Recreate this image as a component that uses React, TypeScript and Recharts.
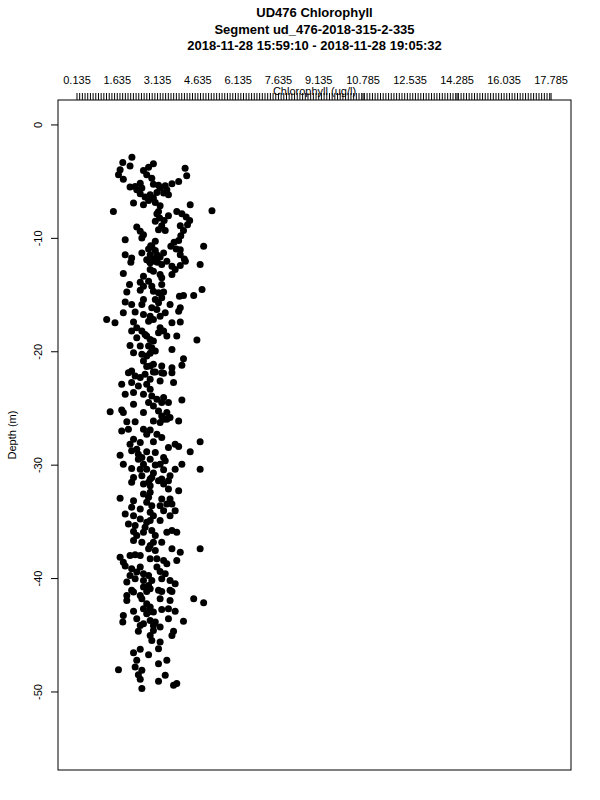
import React from 'react';
import { ScatterChart, Scatter, XAxis, YAxis } from 'recharts';

// Chart text
const titleLines = [
  'UD476 Chlorophyll',
  'Segment ud_476-2018-315-2-335',
  '2018-11-28 15:59:10 - 2018-11-28 19:05:32',
];
const xLabel = 'Chlorophyll (ug/l)';
const yLabel = 'Depth (m)';

// Labelled ticks on the top axis
const xTickLabels = [0.135, 1.635, 3.135, 4.635, 6.135, 7.635, 9.135, 10.785, 12.535, 14.285, 16.035, 17.785];
const xMinorStep = 0.1;
const yTicks = [0, -10, -20, -30, -40, -50];

// Samples (chlorophyll ug/l, depth m)
const chlorophyll = [
  2.18, 1.84, 2.11, 1.74, 1.68, 1.86, 2.98, 2.80, 2.61, 2.73, 2.92, 4.16, 4.22, 3.92, 3.67, 3.42, 3.17, 2.98,
  2.11, 2.36, 2.55, 2.49, 2.67, 2.86, 3.11, 3.36, 3.54, 2.80, 3.05, 2.24, 2.61, 3.23, 1.49, 4.35, 5.16, 3.85,
  4.04, 4.20, 4.33, 3.11, 3.21, 3.05, 3.38, 3.54, 3.29, 3.17, 3.42, 3.98, 4.10, 4.25, 2.36, 2.49, 2.61, 2.55,
  4.00, 3.92, 3.75, 1.93, 4.85, 3.05, 2.88, 2.80, 3.05, 2.86, 2.98, 3.23, 3.36, 3.13, 2.83, 1.93, 2.17, 2.55,
  3.83, 3.98, 4.13, 3.63,
  2.92, 3.11, 2.73, 2.98, 3.17, 2.49, 2.30, 3.48, 3.23, 3.98,
  2.14, 2.86, 3.04, 3.29, 3.48, 3.67, 3.98, 4.17, 4.72, 1.86, 2.98, 3.23, 3.67, 3.79, 2.61, 2.80, 2.49, 3.29,
  2.09, 2.61, 2.92, 3.29, 2.98, 1.99, 2.49, 3.36, 4.10, 3.95, 4.48, 4.79, 1.93, 2.17, 2.55, 3.05, 3.17, 3.29,
  3.60, 3.98, 3.92, 2.92, 3.11, 1.86, 2.30, 2.61, 2.86, 3.42, 3.67, 3.98, 1.24, 1.55, 2.24, 2.80, 2.98, 2.17,
  2.55, 3.23, 3.36, 3.17, 3.85, 2.36, 2.67, 2.86, 2.98, 4.60, 2.11, 2.49, 2.80, 3.67, 2.24, 2.55, 2.86, 3.05,
  4.10, 4.04, 3.67, 3.29, 2.98, 2.73, 2.61, 2.17, 3.05, 3.29,
  2.86, 2.73, 2.92, 2.73, 2.86, 3.17, 2.61, 3.23, 2.36, 3.48,
  2.05, 2.30, 2.67, 2.98, 3.36, 3.67, 3.23, 3.73, 1.80, 2.17, 2.42, 2.73, 2.86, 1.93, 2.24, 2.61, 2.92, 3.36,
  3.54, 3.29, 4.04, 2.24, 2.80, 2.98, 1.37, 1.80, 1.86, 2.61, 3.17, 3.48, 3.60, 3.36, 2.98, 3.23, 3.92, 1.99,
  2.30, 1.80, 2.05, 2.61, 2.86, 2.73, 3.11, 3.29, 2.24, 2.11, 2.49, 2.98, 4.72, 3.79, 3.54, 3.92, 2.17, 2.42,
  2.73, 3.05, 4.35, 1.74, 2.42, 2.86, 3.36, 3.42, 2.61, 3.05, 1.86, 2.17, 2.49, 3.79, 3.36, 4.04, 4.72, 2.24,
  2.55, 2.92, 2.98, 3.29, 3.60, 3.54,
  2.49, 2.86, 3.11, 3.29, 3.48, 2.36, 2.55, 3.23, 2.73, 2.86,
  2.17, 2.61, 2.86, 3.17, 3.36, 3.54, 3.92, 1.74, 2.24, 2.61, 2.80, 2.86, 3.29, 3.60, 3.67, 3.23, 2.92, 2.17,
  2.49, 1.93, 2.24, 2.86, 3.36, 3.60, 3.79, 2.49, 2.86, 3.23, 2.05, 2.30, 2.67, 2.24, 2.61, 2.92, 3.05, 3.48,
  3.67, 3.85, 2.24, 2.55, 2.98, 3.29, 2.80, 3.05, 3.67, 3.98, 4.72, 2.11, 2.30, 2.49, 1.74, 1.86, 1.93, 2.86,
  3.36, 3.48, 3.85, 2.17, 2.49, 3.11, 3.23, 2.11, 2.61, 2.80, 3.42, 1.99, 2.30, 2.61, 2.92, 3.29, 3.60, 3.79,
  2.17, 2.61, 2.86, 3.17, 3.60,
  2.80, 2.73, 3.48, 2.98, 2.73, 2.36, 2.86, 3.11, 2.36, 2.80,
  1.99, 2.24, 2.49, 2.73, 3.29, 3.67, 1.99, 2.55, 2.73, 3.23, 3.60, 4.48, 4.85, 2.24, 2.61, 2.80, 2.98, 3.29,
  3.54, 3.79, 1.86, 1.84, 2.36, 2.86, 3.05, 3.54, 4.10, 2.61, 2.98, 3.23, 2.42, 2.86, 3.67, 3.73, 2.92, 3.23,
  3.17, 2.24, 2.49, 2.80, 2.36, 3.48, 3.17, 2.30, 2.55, 1.68, 2.42, 3.42, 2.49, 3.17, 3.73, 3.85, 2.55,
  2.86, 2.73, 2.49, 2.98,
];
const depth = [
  -2.85, -3.31, -3.61, -3.96, -4.40, -4.78, -3.43, -3.72, -4.02, -4.40, -4.69, -3.81, -4.49, -4.99, -5.19, -5.37, -5.31, -5.22,
  -5.48, -5.72, -5.57, -6.07, -6.36, -6.16, -5.95, -6.01, -6.16, -6.66, -6.83, -6.89, -7.04, -7.13, -7.63, -7.04, -7.57, -7.63,
  -7.83, -8.12, -8.42, -7.83, -8.21, -8.50, -8.42, -8.01, -8.89, -9.24, -9.30, -8.89, -9.30, -8.80, -9.00, -9.38, -9.68, -9.97,
  -9.77, -10.18, -10.35, -10.12, -10.70, -10.26, -10.65, -10.94, -11.06, -11.44, -11.82, -11.64, -11.29, -12.11, -12.02, -11.44, -11.73, -11.29,
  -10.94, -11.44, -11.82, -10.70,
  -10.70, -11.44, -11.88, -6.45, -7.63, -5.13, -5.43, -5.72, -5.57, -11.00,
  -12.10, -12.16, -12.02, -12.31, -12.02, -12.46, -12.40, -12.02, -12.31, -13.10, -12.90, -13.19, -13.19, -12.75, -13.34, -13.78, -13.86, -13.48,
  -14.07, -14.22, -14.22, -14.07, -14.66, -14.74, -14.57, -14.74, -15.04, -15.10, -15.04, -14.51, -15.62, -15.83, -15.83, -15.39, -15.68, -15.24,
  -15.83, -16.12, -16.42, -16.12, -16.27, -16.56, -16.50, -16.71, -16.86, -16.56, -17.44, -17.38, -17.15, -17.44, -17.38, -17.30, -17.15, -18.17,
  -18.17, -17.88, -18.17, -18.32, -18.61, -18.76, -18.47, -18.91, -19.05, -18.97, -19.44, -19.49, -19.49, -19.79, -20.08, -20.23, -20.14, -19.93,
  -20.61, -21.20, -21.40, -21.25, -21.11, -21.31, -20.81, -21.69, -21.78, -21.84,
  -12.75, -18.61, -19.64, -20.37, -21.25, -14.80, -15.39, -16.86, -17.88, -18.61,
  -21.84, -22.14, -21.99, -21.78, -21.90, -21.84, -22.58, -22.72, -22.87, -22.72, -23.02, -22.87, -23.31, -23.75, -23.60, -23.75, -23.90, -24.04,
  -24.48, -24.48, -24.25, -24.63, -24.48, -24.78, -25.30, -25.13, -25.36, -25.36, -25.22, -25.36, -25.80, -25.95, -26.10, -26.24, -26.10, -26.18,
  -26.18, -26.98, -26.83, -26.83, -26.89, -27.27, -27.27, -27.56, -27.71, -28.15, -28.00, -27.94, -27.94, -28.15, -28.44, -28.35, -28.73, -29.03,
  -28.82, -28.88, -28.82, -29.12, -29.47, -29.47, -29.32, -29.61, -29.91, -29.99, -29.91, -30.29, -30.35, -30.35, -30.41, -29.91, -30.35, -31.08,
  -30.93, -31.08, -30.70, -31.23, -30.93, -31.37,
  -22.28, -22.43, -24.19, -25.66, -25.95, -28.59, -29.32, -29.91, -30.35, -31.23,
  -31.51, -31.66, -31.81, -31.37, -31.66, -32.10, -32.25, -32.92, -33.13, -32.54, -32.83, -32.39, -32.98, -32.98, -33.42, -33.57, -33.57, -33.71,
  -33.86, -34.30, -34.45, -34.15, -34.01, -34.45, -34.01, -34.74, -34.89, -34.89, -35.18, -35.33, -35.47, -35.85, -35.91, -35.77, -36.21, -35.91,
  -35.77, -35.91, -36.65, -36.79, -36.79, -36.79, -37.38, -37.52, -37.38, -37.67, -37.38, -37.96, -37.91, -37.96, -38.11, -38.55, -38.90, -38.26,
  -38.40, -38.70, -38.40, -39.14, -38.99, -38.99, -39.37, -39.72, -39.58, -39.72, -39.58, -40.31, -40.02, -40.16, -40.16, -40.02, -40.16, -40.46,
  -41.04, -40.75, -40.90, -41.04, -41.04,
  -31.51, -33.27, -33.42, -34.45, -35.03, -36.21, -37.09, -38.26, -39.43, -40.60,
  -41.49, -41.19, -41.49, -41.13, -41.13, -41.13, -41.93, -41.78, -42.22, -41.78, -41.93, -41.78, -42.13, -42.89, -42.66, -42.95, -42.95, -42.72,
  -42.66, -42.89, -43.25, -43.83, -43.54, -43.69, -43.83, -43.54, -43.77, -43.98, -44.13, -44.27, -44.65, -45.01, -45.01, -44.65, -45.45, -45.59,
  -46.18, -46.53, -46.24, -46.71, -47.20, -47.20, -47.50, -47.79, -48.08, -48.03, -48.47, -48.52, -48.88, -49.05, -49.40, -49.26, -49.70,
  -42.51, -43.10, -44.13, -44.57,
];

const points = chlorophyll.map((c, i) => ({ chl: c, depth: depth[i] }));

// Dense comb of ticks with labels only at the labelled positions
const minorTicks: number[] = [];
for (let v = xTickLabels[0]; v <= xTickLabels[xTickLabels.length - 1] + 1e-6; v += xMinorStep) {
  const r = Math.round(v * 1000) / 1000;
  if (!xTickLabels.some(l => Math.abs(l - r) < 0.04)) minorTicks.push(r);
}
const xTicks = [...minorTicks, ...xTickLabels].sort((a, b) => a - b);

const FONT = '"Liberation Sans", Arial, Helvetica, sans-serif';
const W = 600;
const H = 800;
const PLOT = { left: 58, right: 571, top: 100, bottom: 770 };

const TopTick = (props: any) => {
  const { x, payload } = props;
  const v = payload.value;
  const labelled = xTickLabels.some(l => Math.abs(l - v) < 1e-6);
  return (
    <g>
      <line x1={x} x2={x} y1={PLOT.top - 7} y2={PLOT.top} stroke="#000" strokeWidth={1} />
      {labelled && (
        <text x={x} y={84} textAnchor="middle" fontSize={11} fontFamily={FONT} fill="#000">
          {v.toFixed(3)}
        </text>
      )}
    </g>
  );
};

const LeftTick = (props: any) => {
  const { y, payload } = props;
  return (
    <text
      x={38}
      y={y}
      transform={`rotate(-90, 38, ${y})`}
      textAnchor="middle"
      dominantBaseline="central"
      fontSize={11}
      fontFamily={FONT}
      fill="#000"
    >
      {payload.value}
    </text>
  );
};

const Dot = (props: any) => <circle cx={props.cx} cy={props.cy} r={3.5} fill="#000" />;

export default function App() {
  return (
    <div style={{ position: 'absolute', left: 0, top: 0, width: W, height: H, background: '#fff' }}>
      <ScatterChart
        width={W}
        height={H}
        margin={{ top: 60, right: W - PLOT.right, bottom: H - PLOT.bottom, left: 0 }}
      >
        <XAxis
          type="number"
          dataKey="chl"
          orientation="top"
          height={40}
          domain={[-0.572, 18.527]}
          ticks={xTicks}
          interval={0}
          axisLine={false}
          tickLine={false}
          tick={<TopTick />}
          allowDataOverflow
        />
        <YAxis
          type="number"
          dataKey="depth"
          width={PLOT.left}
          domain={[-56.88, 2.2]}
          ticks={yTicks}
          interval={0}
          axisLine={false}
          tickSize={7}
          tickLine={{ stroke: '#000' }}
          tick={<LeftTick />}
          allowDataOverflow
        />
        <Scatter data={points} shape={<Dot />} isAnimationActive={false} />
      </ScatterChart>
      <svg width={W} height={H} style={{ position: 'absolute', left: 0, top: 0, pointerEvents: 'none' }}>
        <rect
          x={PLOT.left}
          y={PLOT.top}
          width={PLOT.right - PLOT.left}
          height={PLOT.bottom - PLOT.top}
          fill="none"
          stroke="#000"
          strokeWidth={1}
        />
        {titleLines.map((t, i) => (
          <text
            key={t}
            x={(PLOT.left + PLOT.right) / 2}
            y={17 + i * 16.5}
            textAnchor="middle"
            fontSize={13}
            fontWeight="bold"
            fontFamily={FONT}
            fill="#000"
          >
            {t}
          </text>
        ))}
        <text
          x={(PLOT.left + PLOT.right) / 2}
          y={95}
          textAnchor="middle"
          fontSize={11}
          fontFamily={FONT}
          fill="#000"
        >
          {xLabel}
        </text>
        <text
          x={12}
          y={(PLOT.top + PLOT.bottom) / 2}
          transform={`rotate(-90, 12, ${(PLOT.top + PLOT.bottom) / 2})`}
          textAnchor="middle"
          dominantBaseline="central"
          fontSize={11}
          fontFamily={FONT}
          fill="#000"
        >
          {yLabel}
        </text>
      </svg>
    </div>
  );
}
